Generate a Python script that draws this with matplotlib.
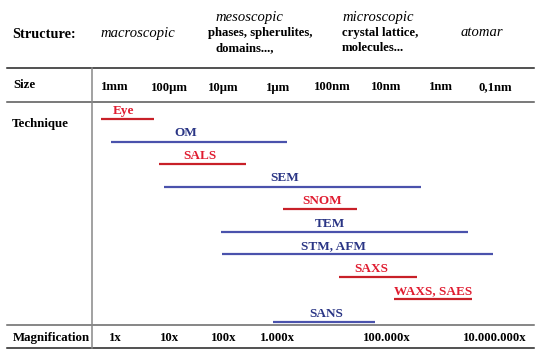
import matplotlib.pyplot as plt
from matplotlib.lines import Line2D

# techniques: range in decades of magnification (1x = 0, 10x = 1, ...)
techniques = ['Eye', 'OM', 'SALS', 'SEM', 'SNOM', 'TEM', 'STM, AFM', 'SAXS', 'WAXS, SAES', 'SANS']
start = [-0.26, -0.07, 0.81, 0.90, 3.09, 1.95, 1.97, 4.13, 5.14, 2.91]
end = [0.72, 3.17, 2.41, 5.64, 4.46, 6.50, 6.96, 5.56, 6.57, 4.79]
group = ['red', 'blue', 'red', 'blue', 'red', 'blue', 'blue', 'red', 'red', 'blue']
label_pos = [0.15, 1.31, 1.57, 3.13, 3.81, 3.96, 4.02, 4.72, 5.86, 3.89]

size_labels = ['1mm', '100\u00b5m', '10\u00b5m', '1\u00b5m', '100nm', '10nm', '1nm', '0,1nm']
size_pos = [0, 1, 2, 3, 4, 5, 6, 7]
mag_labels = ['1x', '10x', '100x', '1.000x', '100.000x', '10.000.000x']
mag_pos = [0, 1, 2, 3, 5, 7]

line_col = {'red': '#c82028', 'blue': '#4a52ac'}
text_col = {'red': '#e01c30', 'blue': '#2a3585'}

W, H = 550, 357
plt.rcParams['font.family'] = ['Liberation Serif', 'DejaVu Serif']
fig = plt.figure(figsize=(W / 100, H / 100), dpi=100)
ax = fig.add_axes([0, 0, 1, 1])
ax.set_axis_off()
# x: decades, 1x at 115 px, 54.3 px per decade; y: technique rows
ax.set_xlim(-115 / 54.3, (W - 115) / 54.3)
ax.set_ylim((H - 119) / 22.56, -119 / 22.56)


def fx(px):
    return px / W


def fy(py):
    return 1 - py / H


for i, name in enumerate(techniques):
    ax.plot([start[i], end[i]], [i, i], color=line_col[group[i]], lw=1.6, solid_capstyle='butt')
    ax.text(label_pos[i], i - 0.1, name, color=text_col[group[i]], fontsize=9.5,
            fontweight='bold', ha='center', va='bottom')

# table lines
for py, c in [(68, '#222222'), (102, '#555555'), (325, '#666666'), (348, '#222222')]:
    fig.add_artist(Line2D([fx(7), fx(534)], [fy(py), fy(py)], color=c, lw=1.1))
fig.add_artist(Line2D([fx(92), fx(92)], [fy(68), fy(348)], color='#888888', lw=1.1))

# header
fig.text(fx(12), fy(34), 'Structure:', fontsize=10.3, fontweight='bold', va='center')
fig.text(fx(138), fy(33), 'macroscopic', fontsize=10.5, style='italic', ha='center', va='center')
fig.text(fx(249), fy(17), 'mesoscopic', fontsize=10.5, style='italic', ha='center', va='center')
fig.text(fx(260), fy(33), 'phases, spherulites,', fontsize=9.2, fontweight='bold', ha='center', va='center')
fig.text(fx(245), fy(48), 'domains...,', fontsize=9.2, fontweight='bold', ha='center', va='center')
fig.text(fx(342), fy(17), 'microscopic', fontsize=10.5, style='italic', ha='left', va='center')
fig.text(fx(342), fy(33), 'crystal lattice,', fontsize=9.2, fontweight='bold', ha='left', va='center')
fig.text(fx(342), fy(48), 'molecules...', fontsize=9.2, fontweight='bold', ha='left', va='center')
fig.text(fx(482), fy(33), 'atomar', fontsize=10.5, style='italic', ha='center', va='center')

# row titles
fig.text(fx(13), fy(85), 'Size', fontsize=9.3, fontweight='bold', va='center')
fig.text(fx(12), fy(124), 'Technique', fontsize=9.3, fontweight='bold', va='center')
fig.text(fx(13), fy(338), 'Magnification', fontsize=9.3, fontweight='bold', va='center')

xt = ax.get_xaxis_transform()
for p, s in zip(size_pos, size_labels):
    ax.text(p, fy(87.5), s, fontsize=9.2, fontweight='bold', ha='center', va='center', transform=xt)
for p, s in zip(mag_pos, mag_labels):
    ax.text(p, fy(338), s, fontsize=9.2, fontweight='bold', ha='center', va='center', transform=xt)

fig.savefig('out.png', dpi=100)
